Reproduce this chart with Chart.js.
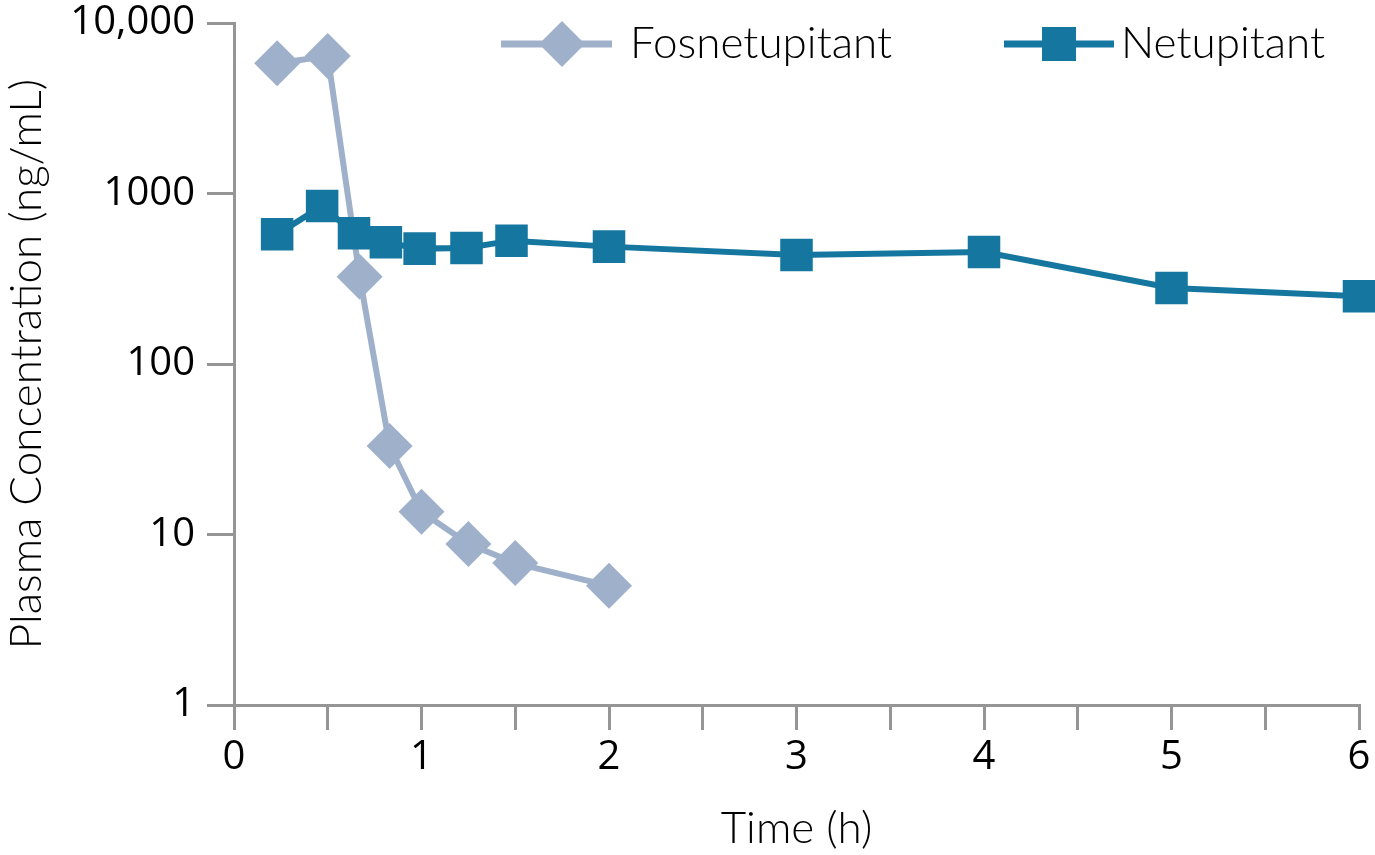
<!DOCTYPE html>
<html>
<head>
<meta charset="utf-8">
<script src="https://cdn.jsdelivr.net/npm/chart.js@4/dist/chart.umd.min.js"></script>
<style>
  html, body { margin: 0; padding: 0; background: #fff; overflow: hidden; }
  #wrap { width: 1375px; height: 855px; overflow: hidden; }
</style>
</head>
<body>
<div id="wrap"><canvas id="grafico" width="1382" height="855"></canvas></div>
<script>
// datos
const fosTime = [0.23, 0.5, 0.67, 0.83, 1, 1.25, 1.5, 2]
const fosConc = [5800, 6400, 325, 33, 13.6, 8.8, 6.8, 5.0]
const netTime = [0.23, 0.47, 0.64, 0.81, 0.99, 1.24, 1.48, 2, 3, 4, 5, 6]
const netConc = [576, 845, 584, 517, 475, 479, 529, 488, 436, 454, 279, 250]

const seriesNames = ["Fosnetupitant", "Netupitant"]
const xTicks = [0, 0.5, 1, 1.5, 2, 2.5, 3, 3.5, 4, 4.5, 5, 5.5, 6]
const yTicks = [1, 10, 100, 1000, 10000]
const yTickLabels = ["1", "10", "100", "1000", "10,000"]

const colFos = "#9fb1ca"
const colNet = "#15779f"
const gris = "#959595"

function puntos(xs, ys) {
    return xs.map((x, i) => ({ x: x, y: ys[i] }))
}

// leyenda dibujada a mano (linea + marcador)
const leyenda = {
    id: "leyenda",
    afterDraw(chart) {
        const ctx = chart.ctx
        const items = [
            { x1: 501, x2: 612, cx: 562, tx: 630, color: colFos, forma: "rombo", texto: seriesNames[0] },
            { x1: 1004, x2: 1114, cx: 1059, tx: 1121, color: colNet, forma: "cuadro", texto: seriesNames[1] }
        ]
        const y = 44
        ctx.save()
        items.forEach(it => {
            ctx.strokeStyle = it.color
            ctx.lineWidth = 7
            ctx.beginPath()
            ctx.moveTo(it.x1, y)
            ctx.lineTo(it.x2, y)
            ctx.stroke()
            ctx.fillStyle = it.color
            ctx.beginPath()
            if (it.forma == "rombo") {
                ctx.moveTo(it.cx, y - 23)
                ctx.lineTo(it.cx + 23, y)
                ctx.lineTo(it.cx, y + 23)
                ctx.lineTo(it.cx - 23, y)
            } else {
                ctx.rect(it.cx - 17, y - 17, 34, 34)
            }
            ctx.closePath()
            ctx.fill()
            ctx.fillStyle = "#000"
            ctx.font = "300 44px Lato"
            ctx.textBaseline = "middle"
            ctx.textAlign = "left"
            ctx.fillText(it.texto, it.tx, y)
        })
        ctx.restore()
    }
}

const ctx = document.getElementById("grafico").getContext("2d")
const chart = new Chart(ctx, {
    type: "line",
    data: {
        datasets: [
            {
                label: seriesNames[1],
                data: puntos(netTime, netConc),
                borderColor: colNet,
                backgroundColor: colNet,
                borderWidth: 6,
                pointStyle: "rect",
                pointRadius: 23,
                pointBorderWidth: 0,
                pointHoverRadius: 23,
                clip: false
            },
            {
                label: seriesNames[0],
                data: puntos(fosTime, fosConc),
                borderColor: colFos,
                backgroundColor: colFos,
                borderWidth: 6,
                pointStyle: "rectRot",
                pointRadius: 23,
                pointBorderWidth: 0,
                pointHoverRadius: 23,
                clip: false
            }
        ]
    },
    options: {
        responsive: false,
        animation: false,
        events: [],
        layout: { padding: { left: 0, right: 16, top: 23, bottom: 0 } },
        plugins: {
            legend: { display: false },
            tooltip: { enabled: false }
        },
        scales: {
            x: {
                type: "linear",
                min: 0,
                max: 6,
                afterBuildTicks: (scale) => { scale.ticks = xTicks.map(v => ({ value: v })) },
                afterFit: (scale) => {
                    scale.height = 150
                    scale.paddingLeft = 0
                    scale.paddingRight = 0
                },
                ticks: {
                    autoSkip: false,
                    maxRotation: 0,
                    padding: 4,
                    color: "#000",
                    font: { family: "Open Sans", size: 40 },
                    callback: (v) => Number.isInteger(v) ? String(v) : ""
                },
                grid: { drawOnChartArea: false, drawTicks: true, tickLength: 25, color: gris, lineWidth: 3 },
                border: { display: true, color: gris, width: 3 },
                title: {
                    display: true,
                    text: "Time (h)",
                    color: "#000",
                    font: { family: "Lato", size: 44, weight: "300" },
                    padding: { top: 12, bottom: 0 }
                }
            },
            y: {
                type: "logarithmic",
                min: 1,
                max: 10000,
                afterBuildTicks: (scale) => { scale.ticks = yTicks.map(v => ({ value: v })) },
                afterFit: (scale) => {
                    scale.width = 234
                    scale.paddingTop = 0
                    scale.paddingBottom = 0
                },
                ticks: {
                    autoSkip: false,
                    padding: 12,
                    color: "#000",
                    font: { family: "Open Sans", size: 40 },
                    callback: (v) => {
                        const i = yTicks.indexOf(v)
                        return i >= 0 ? yTickLabels[i] : ""
                    }
                },
                grid: { drawOnChartArea: false, drawTicks: true, tickLength: 27, color: gris, lineWidth: 3 },
                border: { display: true, color: gris, width: 3 },
                title: {
                    display: true,
                    text: "Plasma Concentration (ng/mL)",
                    color: "#000",
                    font: { family: "Lato", size: 44, weight: "300" },
                    padding: { top: 0, bottom: 4 }
                }
            }
        }
    },
    plugins: [leyenda]
})
</script>
</body>
</html>
